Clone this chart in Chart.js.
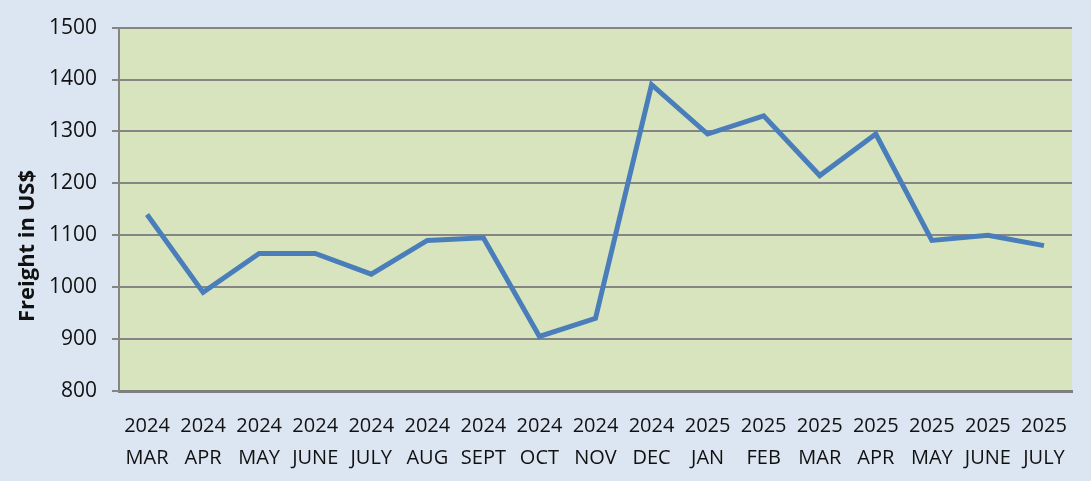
<!DOCTYPE html>
<html>
<head>
<meta charset="utf-8">
<script src="https://cdn.jsdelivr.net/npm/chart.js@4"></script>
<style>
  html, body { margin: 0; padding: 0; background: #dce6f2; }
  #wrap { width: 1091px; height: 481px; }
</style>
</head>
<body>
<div id="wrap"><canvas id="freightChart" width="1091" height="481"></canvas></div>
<script>
// months (year + month on two lines)
const years = ['2024','2024','2024','2024','2024','2024','2024','2024','2024','2024','2025','2025','2025','2025','2025','2025','2025'];
const months = ['MAR','APR','MAY','JUNE','JULY','AUG','SEPT','OCT','NOV','DEC','JAN','FEB','MAR','APR','MAY','JUNE','JULY'];
const freight = [1140, 990, 1065, 1065, 1025, 1090, 1095, 905, 940, 1390, 1295, 1330, 1215, 1295, 1090, 1100, 1080];
const yTicks = [800, 900, 1000, 1100, 1200, 1300, 1400, 1500];
const yTitle = 'Freight in US$';

const labels = years.map((y, i) => [y, months[i]]);

// green plot area
const plotBg = {
    id: 'plotBg',
    beforeDraw(chart) {
        const { ctx, chartArea: a } = chart;
        ctx.save();
        ctx.fillStyle = '#d8e4bd';
        ctx.fillRect(a.left, a.top, a.right - a.left, a.bottom - a.top);
        ctx.restore();
    }
};

// axis title sits lower than centre in the original, so draw it by hand
const sideTitle = {
    id: 'sideTitle',
    afterDraw(chart) {
        const ctx = chart.ctx;
        ctx.save();
        ctx.translate(28, 246);
        ctx.rotate(-Math.PI / 2);
        ctx.font = 'bold 22px "Open Sans"';
        ctx.fillStyle = '#111';
        ctx.textAlign = 'center';
        ctx.textBaseline = 'middle';
        ctx.fillText(yTitle, 0, 0);
        ctx.restore();
    }
};

new Chart(document.getElementById('freightChart').getContext('2d'), {
    type: 'line',
    data: {
        labels: labels,
        datasets: [{
            label: 'Freight',
            data: freight,
            borderColor: '#4a7ebb',
            borderWidth: 5,
            pointRadius: 0,
            tension: 0,
            fill: false
        }]
    },
    options: {
        responsive: false,
        animation: false,
        layout: { padding: { left: 0, right: 19, top: 27, bottom: 0 } },
        plugins: { legend: { display: false }, tooltip: { enabled: false } },
        scales: {
            x: {
                offset: true,
                grid: { display: false },
                border: { display: true, color: '#7f7f7f', width: 3 },
                ticks: {
                    color: '#111',
                    font: { family: 'Open Sans', size: 20, lineHeight: 1.6 },
                    padding: 11,
                    maxRotation: 0,
                    autoSkip: false
                },
                afterFit(scale) { scale.height = 90; }
            },
            y: {
                min: 800,
                max: 1500,
                afterBuildTicks(scale) { scale.ticks = yTicks.map(v => ({ value: v })); },
                grid: { color: '#858585', lineWidth: 2, tickLength: 7 },
                border: { display: true, color: '#858585', width: 2 },
                ticks: {
                    color: '#111',
                    font: { family: 'Open Sans', size: 21 },
                    padding: 15,
                    callback: v => String(v)
                },
                afterFit(scale) { scale.width = 119; }
            }
        }
    },
    plugins: [plotBg, sideTitle]
});
</script>
</body>
</html>
